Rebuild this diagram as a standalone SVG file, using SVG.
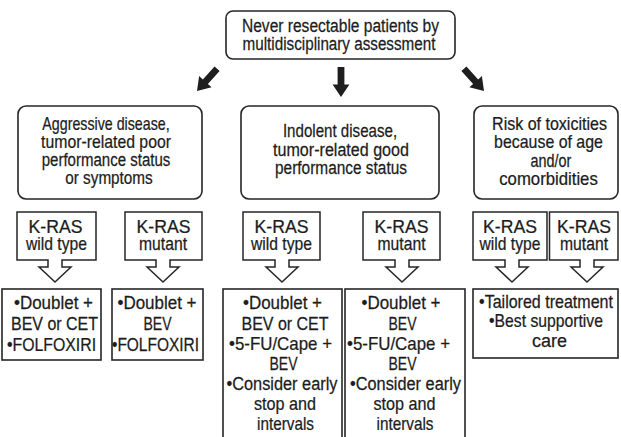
<svg xmlns="http://www.w3.org/2000/svg" width="621" height="437" viewBox="0 0 621 437">
<defs>
<style>
.bg{fill:#ffffff}
.rbox{fill:#ffffff;stroke:#262626;stroke-width:1.6}
.box{fill:#ffffff;stroke:#262626;stroke-width:1.6}
.call{fill:#ffffff;stroke:#262626;stroke-width:1.5;stroke-linejoin:miter}
.arr{fill:#1e1e1e;stroke:none}
text{font-family:"Liberation Sans",Arial,sans-serif;font-size:18px;fill:#1c1c1c;stroke:#1c1c1c;stroke-width:0.25;text-anchor:middle}
</style>
<path id="bigArrow" d="M -3.4,-30 H 3.4 V -12.5 H 8.4 L 0,0 L -8.4,-12.5 H -3.4 Z"/>
</defs>
<rect class="bg" x="0" y="0" width="621" height="437"/>

<g id="connectors">
<use href="#bigArrow" class="arr" transform="translate(197,91) rotate(42)"/>
<use href="#bigArrow" class="arr" transform="translate(341,97)"/>
<use href="#bigArrow" class="arr" transform="translate(484,91) rotate(-42)"/>
</g>

<g id="top">
<rect class="rbox" x="226" y="11" width="229" height="48" rx="7"/>
<text transform="translate(340.5,32) scale(0.864,1)">Never resectable patients by</text>
<text transform="translate(339,50) scale(0.846,1)">multidisciplinary assessment</text>
</g>

<g id="aggressive">
<rect class="rbox" x="18" y="106" width="184" height="93" rx="8"/>
<text transform="translate(106,130) scale(0.79,1)">Aggressive disease,</text>
<text transform="translate(106,148) scale(0.878,1)">tumor-related poor</text>
<text transform="translate(106,166) scale(0.835,1)">performance status</text>
<text transform="translate(109,184) scale(0.85,1)">or symptoms</text>
</g>

<g id="indolent">
<rect class="rbox" x="241" y="106" width="198" height="93" rx="8"/>
<text transform="translate(340,137) scale(0.84,1)">Indolent disease,</text>
<text transform="translate(341,155.5) scale(0.894,1)">tumor-related good</text>
<text transform="translate(341,174) scale(0.857,1)">performance status</text>
</g>

<g id="risk">
<rect class="rbox" x="474" y="106" width="144" height="93" rx="8"/>
<text transform="translate(549.5,130) scale(0.891,1)">Risk of toxicities</text>
<text transform="translate(548.5,148) scale(0.885,1)">because of age</text>
<text transform="translate(551,167) scale(0.8,1)">and/or</text>
<text transform="translate(548.5,185) scale(0.93,1)">comorbidities</text>
</g>

<g id="kras-a-wt">
<path class="call" d="M17,212 H96 V260 H62 V267 H71 L55,282 L39,267 H48 V260 H17 Z"/>
<text transform="translate(55.5,233) scale(0.98,1)">K-RAS</text>
<text transform="translate(56.5,250) scale(0.871,1)">wild type</text>
</g>
<g id="kras-a-mut">
<path class="call" d="M125,212 H202 V260 H170 V267 H179 L163,282 L147,267 H156 V260 H125 Z"/>
<text transform="translate(163.5,233) scale(0.98,1)">K-RAS</text>
<text transform="translate(163,250) scale(0.873,1)">mutant</text>
</g>
<g id="kras-i-wt">
<path class="call" d="M243,212 H320 V260 H289 V267 H298 L282,282 L266,267 H275 V260 H243 Z"/>
<text transform="translate(281.5,233) scale(0.98,1)">K-RAS</text>
<text transform="translate(281.5,250) scale(0.871,1)">wild type</text>
</g>
<g id="kras-i-mut">
<path class="call" d="M363,212 H440 V260 H409 V267 H418 L402,282 L386,267 H395 V260 H363 Z"/>
<text transform="translate(401.5,233) scale(0.98,1)">K-RAS</text>
<text transform="translate(401.5,250) scale(0.873,1)">mutant</text>
</g>
<g id="kras-r-wt">
<path class="call" d="M473,212 H547 V260 H519 V267 H528 L512,282 L496,267 H505 V260 H473 Z"/>
<text transform="translate(510,233) scale(0.98,1)">K-RAS</text>
<text transform="translate(510,250) scale(0.871,1)">wild type</text>
</g>
<g id="kras-r-mut">
<path class="call" d="M549.5,212 H618 V260 H594 V267 H603 L587,282 L571,267 H580 V260 H549.5 Z"/>
<text transform="translate(584,233) scale(0.98,1)">K-RAS</text>
<text transform="translate(584,250) scale(0.873,1)">mutant</text>
</g>

<g id="tx-a-wt">
<rect class="box" x="2" y="289" width="99" height="71"/>
<text transform="translate(53.5,309) scale(0.943,1)">•Doublet +</text>
<text transform="translate(54.5,330) scale(0.888,1)">BEV or CET</text>
<text transform="translate(51.5,351) scale(0.88,1)">•FOLFOXIRI</text>
</g>
<g id="tx-a-mut">
<rect class="box" x="112" y="289" width="91" height="71"/>
<text transform="translate(157,309) scale(0.943,1)">•Doublet +</text>
<text transform="translate(157.5,330) scale(0.78,1)">BEV</text>
<text transform="translate(155.5,351) scale(0.86,1)">•FOLFOXIRI</text>
</g>
<g id="tx-i-wt">
<rect class="box" x="223" y="289" width="119" height="160"/>
<text transform="translate(282.5,309) scale(0.943,1)">•Doublet +</text>
<text transform="translate(285,330) scale(0.888,1)">BEV or CET</text>
<text transform="translate(280.5,350) scale(0.938,1)">•5-FU/Cape +</text>
<text transform="translate(283.5,370) scale(0.78,1)">BEV</text>
<text transform="translate(282,390) scale(0.907,1)">•Consider early</text>
<text transform="translate(285,410) scale(0.898,1)">stop and</text>
<text transform="translate(285.5,430) scale(0.85,1)">intervals</text>
</g>
<g id="tx-i-mut">
<rect class="box" x="345" y="289" width="120" height="160"/>
<text transform="translate(401,309) scale(0.943,1)">•Doublet +</text>
<text transform="translate(402.5,330) scale(0.78,1)">BEV</text>
<text transform="translate(398.5,350) scale(0.938,1)">•5-FU/Cape +</text>
<text transform="translate(402.5,370) scale(0.78,1)">BEV</text>
<text transform="translate(405.5,390) scale(0.907,1)">•Consider early</text>
<text transform="translate(404.5,410) scale(0.898,1)">stop and</text>
<text transform="translate(405,430) scale(0.85,1)">intervals</text>
</g>
<g id="tx-risk">
<rect class="box" x="473" y="289" width="145" height="69"/>
<text transform="translate(546,308) scale(0.892,1)">•Tailored treatment</text>
<text transform="translate(546,327) scale(0.874,1)">•Best supportive</text>
<text transform="translate(549.5,347)">care</text>
</g>
</svg>
